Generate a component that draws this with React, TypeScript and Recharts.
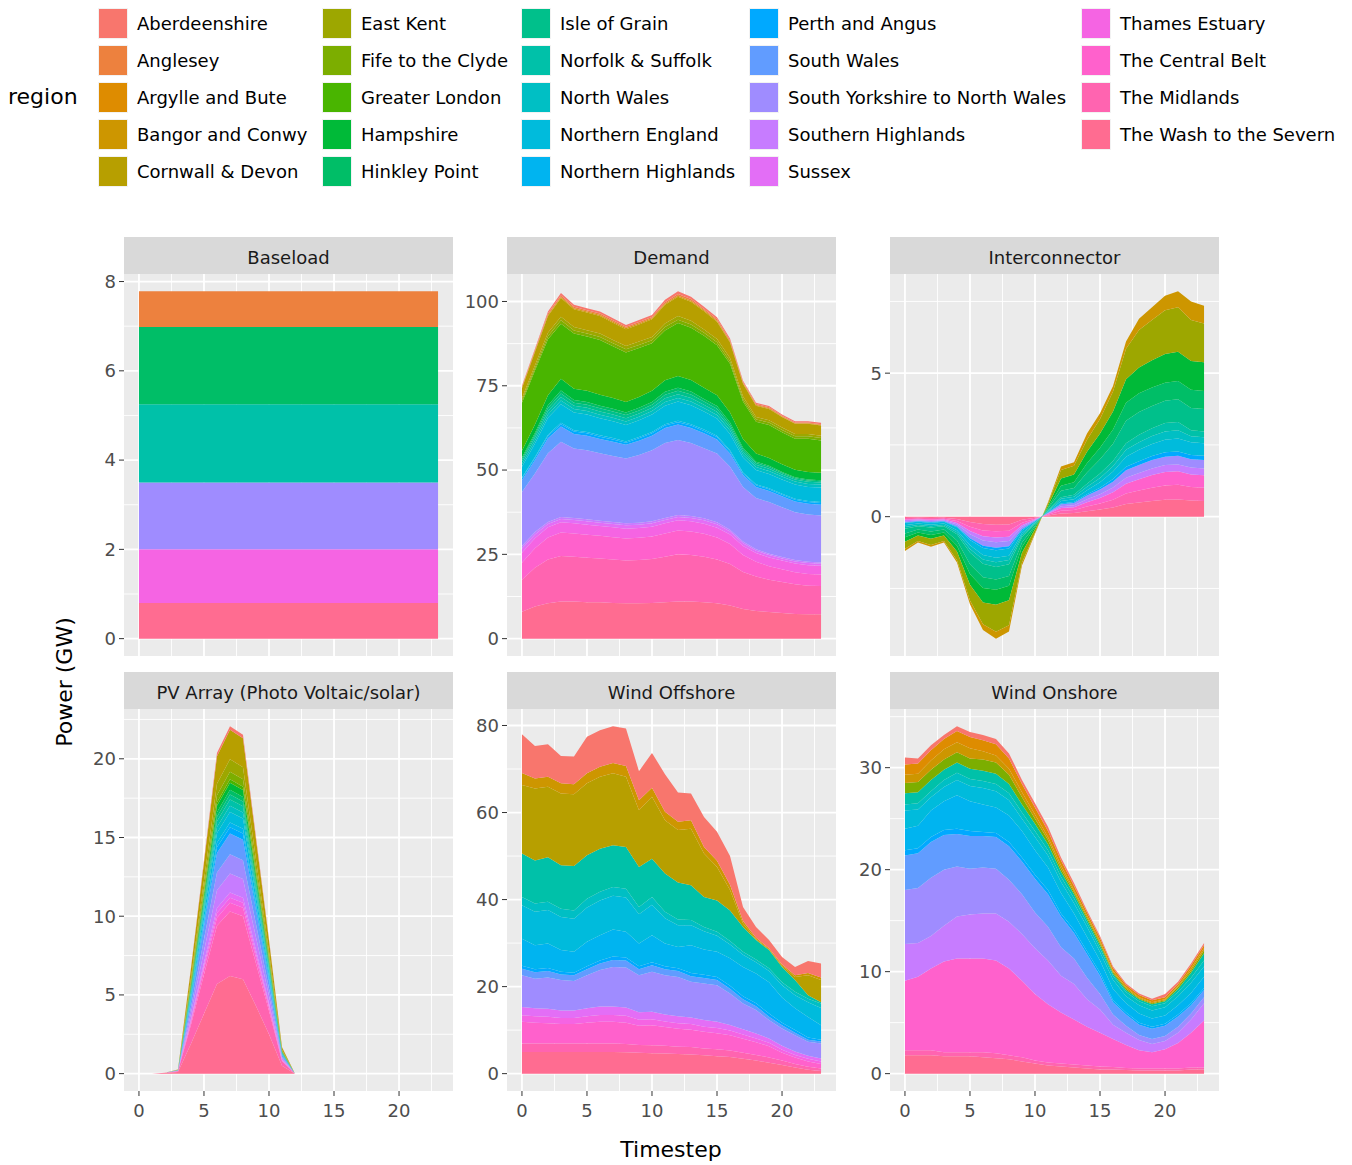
import React from 'react';
import { AreaChart, Area, XAxis, YAxis, CartesianGrid } from 'recharts';

const FONT = '"DejaVu Sans", Verdana, sans-serif';

const timesteps = [0, 1, 2, 3, 4, 5, 6, 7, 8, 9, 10, 11, 12, 13, 14, 15, 16, 17, 18, 19, 20, 21, 22, 23];

const regions = [
  'Aberdeenshire', 'Anglesey', 'Argylle and Bute', 'Bangor and Conwy', 'Cornwall & Devon',
  'East Kent', 'Fife to the Clyde', 'Greater London', 'Hampshire', 'Hinkley Point',
  'Isle of Grain', 'Norfolk & Suffolk', 'North Wales', 'Northern England', 'Northern Highlands',
  'Perth and Angus', 'South Wales', 'South Yorkshire to North Wales', 'Southern Highlands', 'Sussex',
  'Thames Estuary', 'The Central Belt', 'The Midlands', 'The Wash to the Severn',
];

const xMajor = [0, 5, 10, 15, 20];
const xMinor = [2.5, 7.5, 12.5, 17.5, 22.5];

// ---- Baseload (GW)
const baseWash = [0.8, 0.8, 0.8, 0.8, 0.8, 0.8, 0.8, 0.8, 0.8, 0.8, 0.8, 0.8, 0.8, 0.8, 0.8, 0.8, 0.8, 0.8, 0.8, 0.8, 0.8, 0.8, 0.8, 0.8];
const baseThames = [1.2, 1.2, 1.2, 1.2, 1.2, 1.2, 1.2, 1.2, 1.2, 1.2, 1.2, 1.2, 1.2, 1.2, 1.2, 1.2, 1.2, 1.2, 1.2, 1.2, 1.2, 1.2, 1.2, 1.2];
const baseSYorks = [1.5, 1.5, 1.5, 1.5, 1.5, 1.5, 1.5, 1.5, 1.5, 1.5, 1.5, 1.5, 1.5, 1.5, 1.5, 1.5, 1.5, 1.5, 1.5, 1.5, 1.5, 1.5, 1.5, 1.5];
const baseNorfolk = [1.75, 1.75, 1.75, 1.75, 1.75, 1.75, 1.75, 1.75, 1.75, 1.75, 1.75, 1.75, 1.75, 1.75, 1.75, 1.75, 1.75, 1.75, 1.75, 1.75, 1.75, 1.75, 1.75, 1.75];
const baseHinkley = [1.73, 1.73, 1.73, 1.73, 1.73, 1.73, 1.73, 1.73, 1.73, 1.73, 1.73, 1.73, 1.73, 1.73, 1.73, 1.73, 1.73, 1.73, 1.73, 1.73, 1.73, 1.73, 1.73, 1.73];
const baseAnglesey = [0.8, 0.8, 0.8, 0.8, 0.8, 0.8, 0.8, 0.8, 0.8, 0.8, 0.8, 0.8, 0.8, 0.8, 0.8, 0.8, 0.8, 0.8, 0.8, 0.8, 0.8, 0.8, 0.8, 0.8];

// ---- Demand
const demandWash = [8, 9.5, 10.5, 11, 11, 10.8, 10.8, 10.6, 10.5, 10.5, 10.6, 10.8, 11, 11, 10.8, 10.5, 9.8, 8.8, 8.2, 7.9, 7.6, 7.3, 7.2, 7.2];
const demandMidlands = [9.5, 11.5, 13, 13.5, 13.3, 13.2, 13, 12.9, 12.7, 12.8, 13, 13.5, 14, 13.8, 13.5, 13, 12.3, 11, 10.2, 9.6, 9.2, 8.8, 8.5, 8.4];
const demandCentral = [5, 5.8, 6.5, 7, 6.9, 6.8, 6.7, 6.6, 6.5, 6.6, 6.7, 6.9, 7.1, 7, 6.8, 6.5, 6, 5, 4.4, 4, 3.8, 3.6, 3.5, 3.4];
const demandThames = [3, 3, 3, 3, 3, 3, 2.9, 2.9, 2.9, 2.9, 2.9, 3, 3, 3, 3, 2.9, 2.8, 2.7, 2.6, 2.6, 2.6, 2.6, 2.6, 2.6];
const demandSussex = [1.2, 1.1, 1, 1, 1, 1, 1, 1, 1, 1, 1, 1, 1, 1, 1, 1, 0.9, 0.8, 0.7, 0.7, 0.6, 0.6, 0.6, 0.6];
const demandSHigh = [0.8, 0.7, 0.6, 0.6, 0.6, 0.6, 0.6, 0.6, 0.6, 0.6, 0.6, 0.6, 0.6, 0.6, 0.6, 0.6, 0.5, 0.5, 0.4, 0.4, 0.4, 0.4, 0.4, 0.4];
const demandSYorks = [16, 17.4, 20.4, 22.3, 20.6, 20.5, 20, 19.6, 19.2, 20.1, 21.1, 22.2, 22.2, 21.6, 20.8, 20.4, 18.7, 16.2, 15.2, 15.3, 14.8, 14.2, 14, 13.9];
const demandSWales = [3.5, 4, 4.4, 4.5, 4.3, 4.3, 4.2, 4.2, 4.1, 4.2, 4.3, 4.5, 4.6, 4.5, 4.4, 4.2, 3.9, 3.5, 3.3, 3.3, 3.2, 3.2, 3.2, 3.2];
const demandPerth = [0.5, 0.6, 0.7, 0.7, 0.7, 0.7, 0.7, 0.7, 0.6, 0.7, 0.7, 0.7, 0.7, 0.7, 0.7, 0.7, 0.6, 0.5, 0.5, 0.5, 0.5, 0.5, 0.5, 0.5];
const demandNHigh = [0.3, 0.3, 0.4, 0.4, 0.4, 0.4, 0.4, 0.4, 0.4, 0.4, 0.4, 0.4, 0.4, 0.4, 0.4, 0.4, 0.4, 0.3, 0.3, 0.3, 0.3, 0.3, 0.3, 0.3];
const demandNEng = [3.2, 4, 5, 5.5, 5.3, 5.2, 5.1, 5, 4.9, 5, 5.2, 5.5, 5.7, 5.6, 5.4, 5.1, 4.8, 4.4, 4.2, 4.2, 4.2, 4.2, 4.2, 4.3];
const demandNWales = [0.8, 0.9, 1, 1.1, 1, 1, 1, 1, 1, 1, 1, 1.1, 1.1, 1.1, 1, 1, 1, 0.9, 0.9, 0.9, 0.9, 0.9, 0.9, 0.9];
const demandNorfolk = [0.8, 0.9, 1, 1.1, 1, 1, 1, 1, 1, 1, 1, 1.1, 1.1, 1.1, 1, 1, 0.9, 0.8, 0.7, 0.7, 0.6, 0.6, 0.6, 0.6];
const demandGrain = [0.6, 0.7, 0.9, 1, 0.9, 0.9, 0.9, 0.9, 0.9, 0.9, 0.9, 1, 1, 1, 0.9, 0.9, 0.8, 0.7, 0.5, 0.5, 0.4, 0.4, 0.4, 0.4];
const demandHinkley = [0.5, 0.6, 0.8, 0.9, 0.8, 0.8, 0.8, 0.8, 0.8, 0.8, 0.8, 0.9, 0.9, 0.9, 0.8, 0.8, 0.7, 0.5, 0.4, 0.4, 0.3, 0.3, 0.3, 0.3];
const demandHampshire = [2, 2.5, 3, 3.5, 3.3, 3.3, 3.2, 3.2, 3.1, 3.2, 3.3, 3.4, 3.5, 3.4, 3.3, 3.2, 3, 2.6, 2.4, 2.3, 2.3, 2.2, 2.2, 2.2];
const demandLondon = [14.3, 16, 16.6, 16.3, 16.4, 16.1, 16.3, 15.3, 14.7, 14.5, 14.1, 14.8, 15.7, 15.5, 15.4, 14.8, 14.4, 11.1, 9.4, 9.8, 9.5, 9.2, 9.9, 9.6];
const demandFife = [0.6, 0.7, 0.9, 1, 0.9, 0.9, 0.9, 0.9, 0.9, 0.9, 0.9, 1, 1, 1, 0.9, 0.9, 0.8, 0.7, 0.7, 0.7, 0.7, 0.7, 0.7, 0.7];
const demandKent = [0.7, 0.8, 1, 1.1, 1, 1, 1, 1, 1, 1, 1, 1.1, 1.1, 1.1, 1, 1, 0.9, 0.8, 0.7, 0.7, 0.7, 0.7, 0.7, 0.7];
const demandCornwall = [3, 4, 5, 5.5, 5.3, 5.2, 5.2, 5.1, 5, 5.1, 5.2, 5.5, 5.7, 5.6, 5.4, 5.1, 4.6, 3.8, 3.4, 3.3, 3.1, 3, 3, 3];
const demandBangor = [0.2, 0.3, 0.3, 0.3, 0.3, 0.3, 0.3, 0.3, 0.3, 0.3, 0.3, 0.3, 0.3, 0.3, 0.3, 0.3, 0.3, 0.2, 0.2, 0.2, 0.2, 0.2, 0.2, 0.2];
const demandAnglesey = [0.2, 0.3, 0.4, 0.5, 0.4, 0.4, 0.4, 0.4, 0.4, 0.4, 0.4, 0.5, 0.5, 0.5, 0.4, 0.4, 0.4, 0.3, 0.3, 0.3, 0.2, 0.2, 0.2, 0.2];
const demandAber = [0.3, 0.4, 0.6, 0.7, 0.6, 0.6, 0.6, 0.6, 0.5, 0.6, 0.6, 0.7, 0.8, 0.7, 0.6, 0.6, 0.5, 0.4, 0.4, 0.4, 0.4, 0.4, 0.4, 0.4];

// ---- Interconnector (negative = export)
const icWash = [-0.05, -0.04, -0.05, -0.04, -0.08, -0.19, -0.26, -0.28, -0.27, -0.11, -0.04, 0.04, 0.11, 0.13, 0.19, 0.25, 0.32, 0.44, 0.49, 0.55, 0.59, 0.6, 0.56, 0.55];
const icMidlands = [-0.04, -0.03, -0.04, -0.03, -0.07, -0.16, -0.22, -0.23, -0.22, -0.1, -0.03, 0.03, 0.1, 0.1, 0.16, 0.21, 0.27, 0.37, 0.42, 0.46, 0.5, 0.51, 0.47, 0.46];
const icCentral = [-0.03, -0.03, -0.03, -0.03, -0.07, -0.15, -0.2, -0.22, -0.21, -0.09, -0.03, 0.03, 0.09, 0.1, 0.15, 0.19, 0.26, 0.34, 0.39, 0.44, 0.47, 0.47, 0.44, 0.43];
const icSHigh = [-0.04, -0.03, -0.03, -0.03, -0.05, -0.11, -0.15, -0.16, -0.15, -0.06, -0.02, 0.02, 0.06, 0.07, 0.11, 0.13, 0.17, 0.21, 0.22, 0.23, 0.24, 0.24, 0.24, 0.24];
const icSYorks = [-0.04, -0.03, -0.04, -0.03, -0.07, -0.14, -0.18, -0.19, -0.18, -0.08, -0.03, 0.02, 0.07, 0.08, 0.13, 0.17, 0.2, 0.26, 0.28, 0.29, 0.29, 0.3, 0.29, 0.29];
const icPerth = [-0.02, -0.02, -0.02, -0.02, -0.03, -0.06, -0.08, -0.09, -0.08, -0.04, -0.01, 0.01, 0.03, 0.03, 0.04, 0.06, 0.09, 0.12, 0.13, 0.14, 0.15, 0.15, 0.15, 0.15];
const icNEng = [-0.08, -0.06, -0.07, -0.06, -0.1, -0.19, -0.25, -0.26, -0.25, -0.1, -0.04, 0.03, 0.09, 0.1, 0.14, 0.19, 0.26, 0.35, 0.4, 0.42, 0.44, 0.45, 0.44, 0.44];
const icNWales = [-0.06, -0.05, -0.05, -0.05, -0.07, -0.13, -0.15, -0.16, -0.15, -0.07, -0.03, 0.02, 0.07, 0.08, 0.12, 0.15, 0.19, 0.24, 0.26, 0.28, 0.29, 0.29, 0.21, 0.21];
const icNorfolk = [-0.06, -0.04, -0.05, -0.04, -0.07, -0.12, -0.15, -0.16, -0.15, -0.06, -0.02, 0.02, 0.06, 0.07, 0.11, 0.15, 0.18, 0.23, 0.26, 0.27, 0.29, 0.29, 0.21, 0.2];
const icGrain = [-0.17, -0.12, -0.14, -0.12, -0.22, -0.41, -0.47, -0.44, -0.41, -0.19, -0.07, 0.06, 0.22, 0.24, 0.39, 0.5, 0.6, 0.78, 0.8, 0.78, 0.78, 0.79, 0.78, 0.78];
const icHinkley = [-0.13, -0.1, -0.12, -0.1, -0.18, -0.34, -0.38, -0.36, -0.34, -0.16, -0.05, 0.04, 0.18, 0.2, 0.32, 0.4, 0.5, 0.63, 0.65, 0.64, 0.63, 0.64, 0.63, 0.63];
const icHampshire = [-0.15, -0.11, -0.13, -0.11, -0.2, -0.37, -0.5, -0.52, -0.5, -0.2, -0.07, 0.06, 0.25, 0.27, 0.4, 0.5, 0.62, 0.82, 0.9, 0.95, 1.0, 1.02, 1.0, 1.0];
const icKent = [-0.25, -0.19, -0.22, -0.19, -0.31, -0.55, -0.76, -0.94, -0.87, -0.34, -0.12, 0.09, 0.3, 0.3, 0.42, 0.5, 0.7, 1.06, 1.3, 1.4, 1.52, 1.55, 1.43, 1.35];
const icBangor = [-0.08, -0.05, -0.06, -0.05, -0.08, -0.13, -0.2, -0.24, -0.22, -0.1, -0.04, 0.03, 0.12, 0.13, 0.22, 0.2, 0.19, 0.25, 0.4, 0.45, 0.51, 0.55, 0.65, 0.62];

// ---- PV Array
const pvWash = [0, 0, 0.05, 0.1, 1.9, 3.8, 5.7, 6.2, 6.0, 4.3, 2.5, 0.5, 0, 0, 0, 0, 0, 0, 0, 0, 0, 0, 0, 0];
const pvMidlands = [0, 0, 0, 0.05, 1.2, 2.5, 3.7, 4.1, 4.0, 2.7, 1.5, 0.3, 0, 0, 0, 0, 0, 0, 0, 0, 0, 0, 0, 0];
const pvCentral = [0, 0, 0, 0.01, 0.17, 0.34, 0.5, 0.55, 0.54, 0.38, 0.21, 0.04, 0, 0, 0, 0, 0, 0, 0, 0, 0, 0, 0, 0];
const pvThames = [0, 0, 0, 0, 0.1, 0.2, 0.31, 0.33, 0.32, 0.23, 0.13, 0.03, 0, 0, 0, 0, 0, 0, 0, 0, 0, 0, 0, 0];
const pvSussex = [0, 0, 0, 0, 0.1, 0.2, 0.31, 0.33, 0.32, 0.23, 0.13, 0.03, 0, 0, 0, 0, 0, 0, 0, 0, 0, 0, 0, 0];
const pvSHigh = [0, 0, 0, 0.02, 0.37, 0.75, 1.13, 1.21, 1.19, 0.83, 0.47, 0.09, 0, 0, 0, 0, 0, 0, 0, 0, 0, 0, 0, 0];
const pvSYorks = [0, 0, 0, 0.02, 0.37, 0.75, 1.13, 1.21, 1.19, 0.83, 0.47, 0.09, 0, 0, 0, 0, 0, 0, 0, 0, 0, 0, 0, 0];
const pvSWales = [0, 0, 0, 0.02, 0.41, 0.82, 1.23, 1.32, 1.3, 0.9, 0.51, 0.1, 0, 0, 0, 0, 0, 0, 0, 0, 0, 0, 0, 0];
const pvPerth = [0, 0, 0, 0, 0.12, 0.24, 0.37, 0.4, 0.39, 0.27, 0.15, 0.03, 0, 0, 0, 0, 0, 0, 0, 0, 0, 0, 0, 0];
const pvNHigh = [0, 0, 0, 0, 0.1, 0.19, 0.29, 0.31, 0.3, 0.21, 0.12, 0.02, 0, 0, 0, 0, 0, 0, 0, 0, 0, 0, 0, 0];
const pvNEng = [0, 0, 0, 0.01, 0.2, 0.41, 0.62, 0.66, 0.65, 0.45, 0.26, 0.05, 0, 0, 0, 0, 0, 0, 0, 0, 0, 0, 0, 0];
const pvNWales = [0, 0, 0, 0, 0.12, 0.24, 0.37, 0.4, 0.39, 0.27, 0.15, 0.03, 0, 0, 0, 0, 0, 0, 0, 0, 0, 0, 0, 0];
const pvNorfolk = [0, 0, 0, 0, 0.12, 0.24, 0.37, 0.4, 0.39, 0.27, 0.15, 0.03, 0, 0, 0, 0, 0, 0, 0, 0, 0, 0, 0, 0];
const pvGrain = [0, 0, 0, 0, 0.1, 0.19, 0.29, 0.31, 0.3, 0.21, 0.12, 0.02, 0, 0, 0, 0, 0, 0, 0, 0, 0, 0, 0, 0];
const pvHinkley = [0, 0, 0, 0, 0.1, 0.19, 0.29, 0.31, 0.3, 0.21, 0.12, 0.02, 0, 0, 0, 0, 0, 0, 0, 0, 0, 0, 0, 0];
const pvHampshire = [0, 0, 0, 0, 0.14, 0.27, 0.41, 0.44, 0.43, 0.3, 0.17, 0.03, 0, 0, 0, 0, 0, 0, 0, 0, 0, 0, 0, 0];
const pvLondon = [0, 0, 0, 0, 0.07, 0.14, 0.21, 0.22, 0.22, 0.15, 0.09, 0.02, 0, 0, 0, 0, 0, 0, 0, 0, 0, 0, 0, 0];
const pvFife = [0, 0, 0, 0, 0.15, 0.3, 0.45, 0.48, 0.47, 0.33, 0.19, 0.04, 0, 0, 0, 0, 0, 0, 0, 0, 0, 0, 0, 0];
const pvKent = [0, 0, 0, 0.01, 0.24, 0.49, 0.74, 0.79, 0.77, 0.54, 0.31, 0.06, 0, 0, 0, 0, 0, 0, 0, 0, 0, 0, 0, 0];
const pvCornwall = [0, 0, 0, 0.03, 0.58, 1.15, 1.74, 1.87, 1.83, 1.28, 0.72, 0.14, 0, 0, 0, 0, 0, 0, 0, 0, 0, 0, 0, 0];
const pvAber = [0, 0, 0, 0, 0.07, 0.14, 0.21, 0.22, 0.22, 0.15, 0.09, 0.02, 0, 0, 0, 0, 0, 0, 0, 0, 0, 0, 0, 0];

// ---- Wind Offshore
const offWash = [5, 5, 5, 5, 5, 5, 5, 5, 4.9, 4.8, 4.7, 4.6, 4.5, 4.4, 4.2, 4, 3.8, 3.4, 3, 2.5, 2, 1.4, 0.9, 0.6];
const offMidlands = [1.9, 1.9, 1.9, 1.9, 1.9, 1.9, 1.9, 1.9, 1.9, 1.8, 1.8, 1.8, 1.7, 1.7, 1.6, 1.6, 1.5, 1.4, 1.3, 1.2, 1, 0.8, 0.7, 0.6];
const offCentral = [5, 4.8, 4.7, 4.5, 4.5, 4.8, 5, 5, 4.9, 4.4, 4.6, 4.3, 4.1, 4, 3.8, 3.7, 3.5, 3.2, 2.9, 2.6, 1.8, 1.5, 1.2, 1];
const offThames = [1.5, 1.5, 1.5, 1.4, 1.4, 1.5, 1.6, 1.6, 1.6, 1.4, 1.4, 1.3, 1.3, 1.3, 1.2, 1.2, 1.1, 1, 0.9, 0.8, 0.7, 0.6, 0.6, 0.6];
const offSussex = [1.9, 1.8, 1.8, 1.7, 1.7, 1.8, 1.9, 1.9, 1.9, 1.7, 1.7, 1.6, 1.6, 1.5, 1.5, 1.4, 1.3, 1.2, 1.1, 1, 0.9, 0.8, 0.7, 0.7];
const offSYorks = [7.3, 6.8, 7.2, 7, 6.8, 7.6, 8.4, 9.1, 9.2, 8.5, 9.2, 9, 9, 8.2, 8.4, 8.4, 7.2, 5.9, 5.4, 4.2, 4, 3.7, 3.2, 3.4];
const offSWales = [1.5, 1.5, 1.5, 1.3, 1.3, 1.4, 1.5, 1.6, 1.6, 1.4, 1.5, 1.4, 1.4, 1.3, 1.3, 1.2, 1.1, 1, 0.9, 0.8, 0.7, 0.6, 0.5, 0.5];
const offPerth = [0.7, 0.7, 0.7, 0.6, 0.6, 0.7, 0.7, 0.8, 0.7, 0.7, 0.7, 0.7, 0.6, 0.7, 0.7, 0.7, 0.7, 0.7, 0.7, 0.7, 0.6, 0.6, 0.5, 0.4];
const offNHigh = [6.2, 5.5, 5.6, 5.0, 4.8, 5.6, 5.8, 6.2, 5.9, 5.2, 6.2, 5.2, 4.9, 6.4, 5.8, 5.8, 6.3, 6.7, 6.8, 7.2, 5.8, 5.0, 4.7, 3.3];
const offNEng = [7.7, 7.7, 7.7, 7.6, 7.6, 7.9, 8, 7.8, 7.9, 6.7, 7, 5.8, 5, 4.6, 4.2, 3.7, 3.2, 2.8, 2.6, 2.6, 2.8, 3, 3.4, 4];
const offNWales = [1.9, 1.9, 1.9, 1.9, 1.9, 2, 2, 2, 2, 1.7, 1.8, 1.5, 1.3, 1.2, 1, 0.9, 0.8, 0.7, 0.6, 0.6, 0.7, 0.8, 0.8, 1];
const offNorfolk = [10, 9.9, 10.2, 10, 10.2, 10, 9.9, 9.6, 9.6, 9.2, 8.8, 8.8, 8.5, 8, 6.9, 7.2, 7, 5.7, 4.5, 4.2, 3.5, 2.7, 0.8, 0.3];
const offCornwall = [15.7, 16.5, 16.2, 16.5, 16.5, 16.5, 16.5, 16.5, 16.1, 13, 14.2, 12.2, 12.1, 13, 10, 7.7, 4.7, 0.8, 0.2, 0.2, 0.3, 0.7, 4.6, 5.1];
const offBangor = [2.8, 2.3, 2.3, 2.3, 2.3, 2.3, 2.3, 2.4, 2.5, 2.3, 2.1, 2, 1.9, 1.9, 1.5, 1.4, 1.2, 0.6, 0.3, 0.2, 0.3, 0.4, 0.5, 0.6];
const offAber = [8.9, 7.5, 7.5, 6.3, 6.4, 8.4, 8.4, 8.4, 8.6, 6.7, 8, 8.6, 6.7, 6.2, 6.9, 6.7, 6.6, 3.2, 2.5, 1.9, 1.7, 1.9, 2.8, 3.2];

// ---- Wind Onshore
const onWash = [1.8, 1.8, 1.8, 1.7, 1.7, 1.7, 1.6, 1.5, 1.4, 1.2, 1.0, 0.8, 0.7, 0.6, 0.5, 0.4, 0.4, 0.35, 0.3, 0.3, 0.3, 0.3, 0.4, 0.4];
const onMidlands = [0.5, 0.5, 0.5, 0.4, 0.4, 0.4, 0.5, 0.5, 0.4, 0.4, 0.3, 0.3, 0.3, 0.3, 0.3, 0.3, 0.25, 0.2, 0.2, 0.2, 0.2, 0.2, 0.2, 0.2];
const onCentral = [6.8, 7.2, 8.0, 8.9, 9.2, 9.2, 9.2, 9.1, 8.5, 7.5, 6.5, 5.7, 5.0, 4.4, 3.8, 3.3, 2.75, 2.25, 1.8, 1.6, 1.9, 2.5, 3.4, 4.6];
const onSHigh = [3.6, 3.3, 3.2, 3.5, 4.1, 4.3, 4.4, 4.6, 4.6, 4.6, 4.5, 4.3, 3.6, 3.5, 2.7, 2.3, 1.4, 1.2, 1.0, 0.8, 0.8, 1.0, 1.3, 1.7];
const onSYorks = [5.3, 5.4, 5.7, 5.5, 4.9, 4.5, 4.5, 4.4, 4.1, 3.9, 3.5, 3.3, 2.8, 2.5, 2.1, 1.5, 1.0, 0.7, 0.5, 0.5, 0.5, 0.6, 0.6, 0.6];
const onSWales = [3.4, 3.4, 3.5, 3.4, 3.2, 3.2, 3.1, 3.1, 3.3, 3.2, 3.3, 3.2, 3.0, 2.5, 2.3, 1.8, 1.2, 1.1, 1.0, 1.0, 1.0, 1.0, 0.8, 0.7];
const onPerth = [0.5, 0.5, 0.5, 0.5, 0.5, 0.5, 0.4, 0.4, 0.4, 0.4, 0.4, 0.4, 0.3, 0.3, 0.3, 0.3, 0.2, 0.2, 0.2, 0.2, 0.2, 0.2, 0.2, 0.2];
const onNHigh = [2.1, 2.2, 2.6, 2.8, 3.3, 2.9, 2.7, 2.5, 2.6, 2.6, 2.4, 2.2, 2.0, 1.6, 1.4, 1.2, 1.1, 0.9, 0.9, 0.8, 0.8, 0.9, 1.0, 1.1];
const onNEng = [1.8, 1.6, 1.3, 1.4, 1.5, 1.5, 1.6, 1.6, 1.5, 1.2, 1.3, 1.2, 1.1, 1.0, 1.0, 0.8, 0.9, 0.7, 0.8, 0.8, 0.8, 0.9, 1.0, 1.0];
const onNWales = [0.6, 0.6, 0.6, 0.7, 0.7, 0.7, 0.7, 0.7, 0.7, 0.6, 0.6, 0.5, 0.5, 0.5, 0.4, 0.4, 0.4, 0.4, 0.4, 0.4, 0.4, 0.4, 0.5, 0.6];
const onNorfolk = [1.1, 1.1, 1.1, 1.0, 1.0, 1.0, 1.0, 1.0, 0.9, 0.8, 0.7, 0.6, 0.5, 0.4, 0.3, 0.3, 0.2, 0.2, 0.2, 0.2, 0.2, 0.3, 0.5, 0.7];
const onFife = [1.0, 1.0, 1.0, 1.0, 1.0, 1.0, 1.1, 1.1, 0.9, 0.7, 0.5, 0.4, 0.3, 0.2, 0.2, 0.2, 0.15, 0.15, 0.1, 0.1, 0.1, 0.2, 0.2, 0.3];
const onBangor = [0.8, 0.8, 0.9, 1.0, 1.0, 1.0, 0.8, 0.7, 0.6, 0.5, 0.4, 0.3, 0.3, 0.2, 0.2, 0.2, 0.15, 0.15, 0.1, 0.1, 0.1, 0.1, 0.2, 0.2];
const onArgylle = [1.0, 1.0, 1.0, 1.0, 1.1, 1.1, 1.1, 1.1, 1.0, 0.8, 0.7, 0.6, 0.5, 0.4, 0.3, 0.3, 0.25, 0.2, 0.2, 0.2, 0.2, 0.2, 0.3, 0.3];
const onAber = [0.7, 0.5, 0.5, 0.4, 0.45, 0.5, 0.5, 0.5, 0.5, 0.4, 0.4, 0.4, 0.3, 0.3, 0.2, 0.2, 0.15, 0.15, 0.15, 0.15, 0.3, 0.2, 0.2, 0.2];

type Series = [string, number[]];

interface PanelDef {
  title: string;
  series: Series[];
  major: number[];
  minor: number[];
  left: number;
  top: number;
  showX: boolean;
}

// ggplot2 default hue palette: hcl(h, c = 100, l = 65)
function hcl(h: number, c: number, l: number): string {
  const hr = (h * Math.PI) / 180;
  const U = c * Math.cos(hr);
  const V = c * Math.sin(hr);
  const Xn = 95.047, Yn = 100, Zn = 108.883;
  const Y = Yn * Math.pow((l + 16) / 116, 3);
  const den = Xn + 15 * Yn + 3 * Zn;
  const un = (4 * Xn) / den;
  const vn = (9 * Yn) / den;
  const up = U / (13 * l) + un;
  const vp = V / (13 * l) + vn;
  const X = (9 * Y * up) / (4 * vp);
  const Z = (Y * (12 - 3 * up - 20 * vp)) / (4 * vp);
  const x = X / 100, y = Y / 100, z = Z / 100;
  const lin = [
    3.2406 * x - 1.5372 * y - 0.4986 * z,
    -0.9689 * x + 1.8758 * y + 0.0415 * z,
    0.0557 * x - 0.204 * y + 1.057 * z,
  ];
  return '#' + lin
    .map((v) => {
      const cl = Math.min(1, Math.max(0, v));
      const g = cl <= 0.0031308 ? 12.92 * cl : 1.055 * Math.pow(cl, 1 / 2.4) - 0.055;
      return Math.round(g * 255).toString(16).padStart(2, '0');
    })
    .join('');
}

const regionColor: Record<string, string> = {};
regions.forEach((r, i) => {
  regionColor[r] = hcl(15 + i * 15, 100, 65);
});

const PW = 329;
const PH = 382;
const YW = 60;
const XH = 42;
const TOPPAD = 14;
const STRIP = 37;
const SMALL = 18;

const panels: PanelDef[] = [
  {
    title: 'Baseload', left: 124, top: 274, showX: false, major: [0, 2, 4, 6, 8], minor: [1, 3, 5, 7],
    series: [
      ['Anglesey', baseAnglesey], ['Hinkley Point', baseHinkley], ['Norfolk & Suffolk', baseNorfolk],
      ['South Yorkshire to North Wales', baseSYorks], ['Thames Estuary', baseThames], ['The Wash to the Severn', baseWash],
    ],
  },
  {
    title: 'Demand', left: 507, top: 274, showX: false, major: [0, 25, 50, 75, 100], minor: [12.5, 37.5, 62.5, 87.5],
    series: [
      ['Aberdeenshire', demandAber], ['Anglesey', demandAnglesey], ['Bangor and Conwy', demandBangor],
      ['Cornwall & Devon', demandCornwall], ['East Kent', demandKent], ['Fife to the Clyde', demandFife],
      ['Greater London', demandLondon], ['Hampshire', demandHampshire], ['Hinkley Point', demandHinkley],
      ['Isle of Grain', demandGrain], ['Norfolk & Suffolk', demandNorfolk], ['North Wales', demandNWales],
      ['Northern England', demandNEng], ['Northern Highlands', demandNHigh], ['Perth and Angus', demandPerth],
      ['South Wales', demandSWales], ['South Yorkshire to North Wales', demandSYorks], ['Southern Highlands', demandSHigh],
      ['Sussex', demandSussex], ['Thames Estuary', demandThames], ['The Central Belt', demandCentral],
      ['The Midlands', demandMidlands], ['The Wash to the Severn', demandWash],
    ],
  },
  {
    title: 'Interconnector', left: 890, top: 274, showX: false, major: [0, 5], minor: [-2.5, 2.5, 7.5],
    series: [
      ['Bangor and Conwy', icBangor], ['East Kent', icKent], ['Hampshire', icHampshire], ['Hinkley Point', icHinkley],
      ['Isle of Grain', icGrain], ['Norfolk & Suffolk', icNorfolk], ['North Wales', icNWales],
      ['Northern England', icNEng], ['Perth and Angus', icPerth], ['South Yorkshire to North Wales', icSYorks],
      ['Southern Highlands', icSHigh], ['The Central Belt', icCentral], ['The Midlands', icMidlands],
      ['The Wash to the Severn', icWash],
    ],
  },
  {
    title: 'PV Array (Photo Voltaic/solar)', left: 124, top: 709, showX: true, major: [0, 5, 10, 15, 20], minor: [2.5, 7.5, 12.5, 17.5, 22.5],
    series: [
      ['Aberdeenshire', pvAber], ['Cornwall & Devon', pvCornwall], ['East Kent', pvKent], ['Fife to the Clyde', pvFife],
      ['Greater London', pvLondon], ['Hampshire', pvHampshire], ['Hinkley Point', pvHinkley], ['Isle of Grain', pvGrain],
      ['Norfolk & Suffolk', pvNorfolk], ['North Wales', pvNWales], ['Northern England', pvNEng],
      ['Northern Highlands', pvNHigh], ['Perth and Angus', pvPerth], ['South Wales', pvSWales],
      ['South Yorkshire to North Wales', pvSYorks], ['Southern Highlands', pvSHigh], ['Sussex', pvSussex],
      ['Thames Estuary', pvThames], ['The Central Belt', pvCentral], ['The Midlands', pvMidlands],
      ['The Wash to the Severn', pvWash],
    ],
  },
  {
    title: 'Wind Offshore', left: 507, top: 709, showX: true, major: [0, 20, 40, 60, 80], minor: [10, 30, 50, 70],
    series: [
      ['Aberdeenshire', offAber], ['Bangor and Conwy', offBangor], ['Cornwall & Devon', offCornwall],
      ['Norfolk & Suffolk', offNorfolk], ['North Wales', offNWales], ['Northern England', offNEng],
      ['Northern Highlands', offNHigh], ['Perth and Angus', offPerth], ['South Wales', offSWales],
      ['South Yorkshire to North Wales', offSYorks], ['Sussex', offSussex], ['Thames Estuary', offThames],
      ['The Central Belt', offCentral], ['The Midlands', offMidlands], ['The Wash to the Severn', offWash],
    ],
  },
  {
    title: 'Wind Onshore', left: 890, top: 709, showX: true, major: [0, 10, 20, 30], minor: [5, 15, 25, 35],
    series: [
      ['Aberdeenshire', onAber], ['Argylle and Bute', onArgylle], ['Bangor and Conwy', onBangor],
      ['Fife to the Clyde', onFife], ['Norfolk & Suffolk', onNorfolk], ['North Wales', onNWales],
      ['Northern England', onNEng], ['Northern Highlands', onNHigh], ['Perth and Angus', onPerth],
      ['South Wales', onSWales], ['South Yorkshire to North Wales', onSYorks], ['Southern Highlands', onSHigh],
      ['The Central Belt', onCentral], ['The Midlands', onMidlands], ['The Wash to the Severn', onWash],
    ],
  },
];

const tickStyle = { fill: '#4D4D4D', fontSize: SMALL, fontFamily: FONT };

function Panel({ p }: { p: PanelDef }) {
  const rows = timesteps.map((t, i) => {
    const r: Record<string, number> = { t };
    p.series.forEach(([name, vals]) => {
      r[name] = vals[i];
    });
    return r;
  });

  // data range of the stacked columns, expanded by 5% like ggplot
  let lo = 0;
  let hi = 0;
  timesteps.forEach((_, i) => {
    let pos = 0;
    let neg = 0;
    p.series.forEach(([, vals]) => {
      if (vals[i] >= 0) pos += vals[i];
      else neg += vals[i];
    });
    hi = Math.max(hi, pos);
    lo = Math.min(lo, neg);
  });
  const pad = (hi - lo) * 0.05;
  const yDomain: [number, number] = [lo - pad, hi + pad];
  const minor = p.minor.filter((v) => v > yDomain[0] && v < yDomain[1]);

  const order = regions
    .slice()
    .reverse()
    .filter((name) => p.series.some((s) => s[0] === name));

  return (
    <>
      <div
        style={{
          position: 'absolute', left: p.left, top: p.top - STRIP, width: PW, height: STRIP,
          background: '#D9D9D9', color: '#1A1A1A', fontFamily: FONT, fontSize: SMALL,
          lineHeight: `${STRIP + 4}px`, textAlign: 'center', whiteSpace: 'nowrap',
        }}
      >
        {p.title}
      </div>
      <div style={{ position: 'absolute', left: p.left - YW, top: p.top - TOPPAD }}>
        <AreaChart
          width={YW + PW}
          height={TOPPAD + PH + (p.showX ? XH : 0)}
          data={rows}
          margin={{ top: TOPPAD, right: 0, bottom: 0, left: 0 }}
          stackOffset="sign"
        >
          <CartesianGrid fill="#EBEBEB" stroke="#FFFFFF" strokeWidth={0.9} horizontalValues={minor} verticalValues={xMinor} />
          <CartesianGrid stroke="#FFFFFF" strokeWidth={1.8} horizontalValues={p.major} verticalValues={xMajor} />
          <XAxis
            type="number"
            dataKey="t"
            domain={[-1.15, 24.15]}
            ticks={xMajor}
            allowDataOverflow
            hide={!p.showX}
            height={XH}
            axisLine={false}
            tickLine={{ stroke: '#333333' }}
            tickSize={5}
            tickMargin={8}
            interval={0}
            tick={tickStyle}
          />
          <YAxis
            type="number"
            domain={yDomain}
            ticks={p.major}
            allowDataOverflow
            width={YW}
            axisLine={false}
            tickLine={{ stroke: '#333333' }}
            tickSize={5}
            tickMargin={3}
            interval={0}
            tick={tickStyle}
          />
          {order.map((name) => (
            <Area
              key={name}
              type="linear"
              dataKey={name}
              stackId="s"
              fill={regionColor[name]}
              fillOpacity={1}
              stroke="none"
              dot={false}
              activeDot={false}
              isAnimationActive={false}
            />
          ))}
        </AreaChart>
      </div>
    </>
  );
}

const legendColX = [98, 322, 521, 749, 1081];

function Legend() {
  return (
    <>
      <div
        style={{
          position: 'absolute', left: 8, top: 84, fontFamily: FONT, fontSize: 22, color: '#000',
          lineHeight: '26px', whiteSpace: 'nowrap',
        }}
      >
        region
      </div>
      {regions.map((name, i) => {
        const col = Math.floor(i / 5);
        const row = i % 5;
        const x = legendColX[col];
        const y = 8 + row * 37;
        return (
          <React.Fragment key={name}>
            <div
              style={{
                position: 'absolute', left: x, top: y, width: 30, height: 31,
                background: '#F2F2F2',
              }}
            >
              <div style={{ position: 'absolute', left: 1, top: 1, width: 28, height: 29, background: regionColor[name] }} />
            </div>
            <div
              style={{
                position: 'absolute', left: x + 39, top: y, height: 31, lineHeight: '32px',
                fontFamily: FONT, fontSize: SMALL, color: '#000', whiteSpace: 'nowrap',
              }}
            >
              {name}
            </div>
          </React.Fragment>
        );
      })}
    </>
  );
}

export default function App() {
  return (
    <div style={{ position: 'absolute', left: 0, top: 0, width: 1352, height: 1165, background: '#FFFFFF', overflow: 'hidden' }}>
      <Legend />
      {panels.map((p) => (
        <Panel key={p.title} p={p} />
      ))}
      <div
        style={{
          position: 'absolute', left: 65 - 100, top: 682 - 14, width: 200, height: 28, lineHeight: '28px',
          textAlign: 'center', transform: 'rotate(-90deg)', fontFamily: FONT, fontSize: 22, color: '#000',
          whiteSpace: 'nowrap',
        }}
      >
        Power (GW)
      </div>
      <div
        style={{
          position: 'absolute', left: 571, top: 1136, width: 200, height: 28, lineHeight: '28px',
          textAlign: 'center', fontFamily: FONT, fontSize: 22, color: '#000', whiteSpace: 'nowrap',
        }}
      >
        Timestep
      </div>
    </div>
  );
}
